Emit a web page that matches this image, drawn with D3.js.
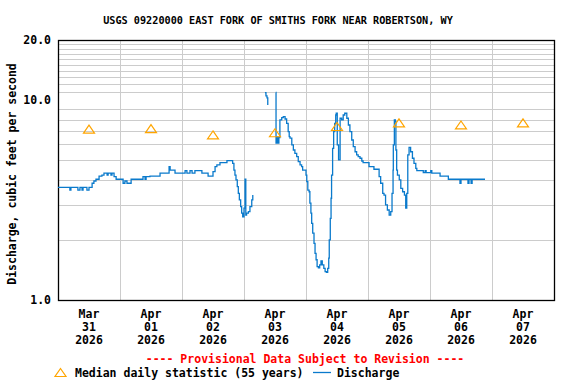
<!DOCTYPE html>
<html>
<head>
<meta charset="utf-8">
<script src="https://cdn.jsdelivr.net/npm/d3@7"></script>
<style>
  body { margin: 0; background: #fff; }
  text { font-family: "DejaVu Sans Mono", monospace; font-weight: bold; font-size: 11.5px; fill: #000; }
</style>
</head>
<body>
<svg id="chart" width="576" height="384"></svg>
<script>
// hours since Mar 31 2026 00:00 and discharge (cfs); null = gap in record
const hours = [0, 4.6, 5.0, 7.7, 8.5, 9.3, 9.7, 11.2, 12.0, 13.2, 13.9, 14.7, 15.9, 17.0, 17.8, 19.0, 19.4, 20.5, 20.9, 21.7, 22.5,
  25.2, 25.9, 26.7, 28.3, 32.9, 33.7, 34.1, 35.6, 39.5, 43.0, 43.4, 45.3, 49.2, 49.9, 51.1, 51.9, 53.0, 55.7, 58.1,
  60.0, 60.8, 61.5, 62.7, 65.4, 67.6, 68.1, 68.5, 68.9, 69.4, 69.8, 70.2, 70.7, 71.1, 71.5, 72.0, 72.4, 72.7, 73.0,
  73.7, 74.3, 75.0, 75.4, 75.8,
  80.1, 80.5, 80.9, 81.2, 81.5,
  84.3, 84.4, 84.8, 85.2, 85.5, 85.9, 86.6, 87.2, 87.9, 88.5, 89.1, 89.5, 89.8, 90.5, 91.1, 91.7, 92.4, 93.0, 93.7,
  94.3, 94.7, 95.9, 96.0, 96.3, 96.7, 97.2, 97.5, 97.9, 98.2, 98.6, 99.1, 99.5, 99.9, 100.3, 100.8, 101.3, 101.8,
  102.3, 102.9, 103.4, 103.9, 104.4, 104.8, 105.0, 105.4, 105.7, 105.9, 106.3, 106.7, 107.1, 107.5, 107.7, 108.1,
  108.6, 109.2, 109.8, 110.4, 111.0, 111.8, 112.4, 113.0, 113.7, 114.3, 115.0, 115.6, 116.2, 116.9, 117.6, 118.1,
  120.4, 122.3, 124.3, 124.9, 125.7, 126.2, 126.8, 127.5, 128.2, 128.8, 129.3, 129.7, 129.8, 130.2, 130.6, 130.8,
  131.1, 131.4, 132.1, 132.7, 133.4, 134.1, 134.6, 135.0, 135.4, 135.9, 136.5, 137.2, 137.8, 138.5, 138.9, 141.4,
  142.1, 142.5, 144.3, 144.7, 147.9, 151.1, 155.6, 156.0, 158.7, 159.1, 159.9, 160.3, 165.3];
const flow = [3.66, 3.55, 3.66, 3.55, 3.66, 3.55, 3.66, 3.55, 3.66, 3.84, 3.94, 4.02, 4.17, 4.22, 4.31, 4.22, 4.31, 4.22, 4.31, 4.14, 4.02,
  3.84, 3.94, 3.84, 4.02, 4.14, 4.02, 4.14, 4.17, 4.31, 4.65, 4.47, 4.31, 4.44, 4.31, 4.44, 4.31, 4.44, 4.31, 4.17,
  4.39, 4.65, 4.74, 4.87, 4.98, 4.83, 4.47, 4.22, 3.99, 3.69, 3.42, 3.17, 2.93, 2.72, 2.61, 2.88, 4.02, 2.66, 2.72,
  2.77, 2.93, 3.17, 3.35, null,
  10.9, 10.5, 10.26, 9.46, null,
  10.92, 6.09, 6.54, 6.09, 6.5, 7.96, 8.17, 8.27, 8.05, 7.66, 6.96, 6.57, 6.45, 5.97, 5.63, 5.42, 5.22, 4.92, 4.74,
  4.65, 4.47, 4.47, 4.22, 3.91, 3.55, 3.48, 3.05, 2.72, 2.42, 2.16, 1.92, 1.71, 1.59, 1.47, 1.45, 1.50, 1.57,
  1.50, 1.44, 1.386, 1.376, 1.44, 1.62, 2.00, 2.56, 3.23, 4.22, 5.74, 6.96, 7.66, 8.43, 8.60, 5.97,
  5.02, 8.12, 7.96, 8.43, 8.60, 8.12, 7.51, 6.96, 6.32, 5.85, 5.52, 5.32, 5.22, 5.12, 4.96, 4.87,
  4.65, 4.51, 4.14, 3.84, 3.42, 3.35, 2.99, 2.82, 2.66, 2.77, 3.42, 4.47, 5.97, 7.96, 7.8, 5.63,
  4.47, 4.22, 3.99, 3.62, 3.48, 3.35, 2.88, 3.42, 5.32, 5.81, 5.52, 5.12, 4.83, 4.56, 4.44, 4.34,
  4.44, 4.34, 4.44, 4.31, 4.17, 4.02, 3.84, 4.02, 3.84, 4.02, 3.84, 4.02, 4.02];

// median daily statistic, plotted at noon of each day
const medianDays = [0, 1, 2, 3, 4, 5, 6, 7];
const medianFlow = [7.12, 7.16, 6.66, 6.83, 7.34, 7.66, 7.47, 7.66];

const tickMonths = ["Mar", "Apr", "Apr", "Apr", "Apr", "Apr", "Apr", "Apr"];
const tickDays = ["31", "01", "02", "03", "04", "05", "06", "07"];
const tickYears = ["2026", "2026", "2026", "2026", "2026", "2026", "2026", "2026"];
const yLabels = [1, 10, 20];

const plotL = 58, plotR = 554, plotT = 40, plotB = 300;
const svg = d3.select("#chart");

const x = d3.scaleLinear().domain([0, 192]).range([plotL, plotR]);
const y = d3.scaleLog().domain([1, 20]).range([plotB, plotT]);

// grid
const minorY = d3.range(2, 10).concat(d3.range(11, 20));
svg.append("g").selectAll("line").data(minorY).enter().append("line")
  .attr("x1", plotL).attr("x2", plotR)
  .attr("y1", d => Math.round(y(d)) + 0.5).attr("y2", d => Math.round(y(d)) + 0.5)
  .attr("stroke", "#cccccc").attr("stroke-width", 1);
svg.append("g").selectAll("line").data(d3.range(24, 192, 24)).enter().append("line")
  .attr("y1", plotT).attr("y2", plotB)
  .attr("x1", d => Math.round(x(d)) + 0.5).attr("x2", d => Math.round(x(d)) + 0.5)
  .attr("stroke", "#cccccc").attr("stroke-width", 1);

// frame
svg.append("rect")
  .attr("x", plotL + 0.5).attr("y", plotT + 0.5)
  .attr("width", plotR - plotL).attr("height", plotB - plotT)
  .attr("fill", "none").attr("stroke", "#000").attr("stroke-width", 1.3);

// discharge
const pts = hours.map((h, i) => ({h: h, v: flow[i]}));
const line = d3.line()
  .defined(d => d.v != null)
  .x(d => x(d.h)).y(d => y(d.v))
  .curve(d3.curveStepAfter);
svg.append("path").datum(pts)
  .attr("d", line)
  .attr("fill", "none").attr("stroke", "#0a7acc").attr("stroke-width", 1.3);

// median triangles
const tri = "M0,-4.5L5.5,3.5L-5.5,3.5Z";
svg.append("g").selectAll("path").data(medianDays).enter().append("path")
  .attr("d", tri)
  .attr("transform", (d, i) => "translate(" + x(d * 24 + 12) + "," + y(medianFlow[i]) + ")")
  .attr("fill", "none").attr("stroke", "#ffa500").attr("stroke-width", 1.2);

// y labels
svg.append("g").selectAll("text").data(yLabels).enter().append("text")
  .attr("x", 51).attr("y", d => y(d) + 4)
  .attr("text-anchor", "end")
  .text(d => d.toFixed(1));

svg.append("text")
  .attr("transform", "translate(16,174) rotate(-90)")
  .attr("text-anchor", "middle")
  .text("Discharge, cubic feet per second");

// x labels
const xl = svg.append("g").selectAll("g").data(medianDays).enter().append("g")
  .attr("transform", d => "translate(" + x(d * 24 + 12) + ",0)");
xl.append("text").attr("y", 318).attr("text-anchor", "middle").text((d, i) => tickMonths[i]);
xl.append("text").attr("y", 331).attr("text-anchor", "middle").text((d, i) => tickDays[i]);
xl.append("text").attr("y", 344).attr("text-anchor", "middle").text((d, i) => tickYears[i]);

// title
svg.append("text")
  .attr("x", 278).attr("y", 24)
  .attr("text-anchor", "middle")
  .style("font-size", "10.2px")
  .text("USGS 09220000 EAST FORK OF SMITHS FORK NEAR ROBERTSON, WY");

svg.append("text")
  .attr("x", 305).attr("y", 363)
  .attr("text-anchor", "middle")
  .style("fill", "#ff0000")
  .text("---- Provisional Data Subject to Revision ----");

// legend
svg.append("path").attr("d", tri)
  .attr("transform", "translate(60.5,373)")
  .attr("fill", "none").attr("stroke", "#ffa500").attr("stroke-width", 1.2);
svg.append("text").attr("x", 75).attr("y", 377).text("Median daily statistic (55 years)");
svg.append("line").attr("x1", 313).attr("x2", 331).attr("y1", 372.5).attr("y2", 372.5)
  .attr("stroke", "#0a7acc").attr("stroke-width", 1.3);
svg.append("text").attr("x", 337).attr("y", 377).text("Discharge");
</script>
</body>
</html>
